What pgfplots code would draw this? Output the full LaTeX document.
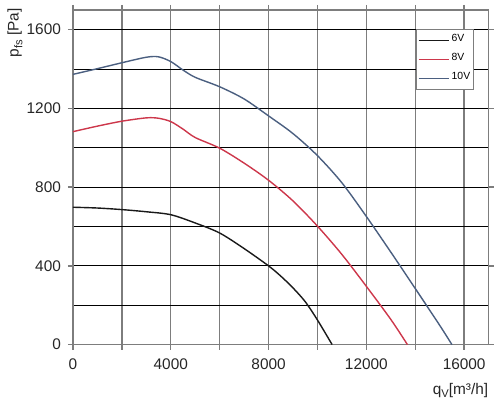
\documentclass[border=0pt]{standalone}
\usepackage{fontspec}
\setmainfont{Liberation Sans}
\usepackage{pgfplots}
\pgfplotsset{compat=1.18}
\definecolor{c6}{RGB}{25,25,25}
\definecolor{c8}{RGB}{205,55,75}
\definecolor{c10}{RGB}{75,95,128}
\definecolor{gridgray}{RGB}{125,125,125}
\newcommand{\sub}[1]{\raisebox{-0.45ex}{\fontsize{5.6}{6}\selectfont #1}}
\begin{document}
\begin{tikzpicture}
\begin{axis}[
  name=ax,
  scale only axis,
  width=207.85pt, height=167.35pt,
  xmin=0, xmax=17000, ymin=0, ymax=1700,
  scaled ticks=false,
  xtick={0,2000,...,16000},
  xticklabels={0,,4000,,8000,,12000,,16000},
  ytick={0,400,...,1600},
  minor ytick={200,600,1000,1400},
  grid=both,
  x grid style={gridgray, line width=0.7pt},
  y grid style={black, line width=0.5pt},
  minor grid style={black, line width=0.5pt},
  axis line style={gridgray, line width=0.7pt},
  tick align=outside,
  major tick length=2.5pt,
  minor tick length=0pt,
  every tick/.style={gridgray, line width=0.7pt},
  tick label style={font=\fontsize{7.7}{9}\selectfont, text=black!85},
  xticklabel style={yshift=-1pt},
  /pgf/number format/assume math mode=true,
  /pgf/number format/1000 sep={},
  legend style={at={(0.9646,0.943)}, anchor=north east, draw=gridgray, line width=0.6pt,
    inner sep=0.8pt, font=\fontsize{5.2}{6}\selectfont, row sep=0pt, text=black,
    nodes={inner sep=0.75pt, text height=4.2pt, text depth=3.8pt}},
  legend cell align=left,
  legend image code/.code={\draw[#1, line width=0.7pt] (0pt,0pt) -- (15.5pt,0pt);},
  clip=false,
]
\addplot[c6, line width=0.7pt, smooth, tension=0.5] coordinates {
(0,698) (1000,694) (2000,686) (3000,675) (4000,660) (5000,618) (6000,567)
(7000,488) (8000,400) (8500,348) (9000,288) (9500,218) (10000,125) (10600,0)};
\addlegendentry{6V}
\addplot[c8, line width=0.7pt, smooth, tension=0.5] coordinates {
(0,1082) (1000,1110) (2000,1135) (3000,1152) (3500,1150) (4000,1133) (4500,1095)
(5000,1052) (6000,998) (7000,922) (8000,835) (9000,730) (10000,602) (11000,458)
(12000,296) (13000,128) (13680,0)};
\addlegendentry{8V}
\addplot[c10, line width=0.7pt, smooth, tension=0.5] coordinates {
(0,1373) (1000,1402) (2000,1432) (3000,1460) (3500,1462) (4000,1438) (4500,1395)
(5000,1358) (6000,1310) (7000,1248) (8000,1162) (9000,1072) (10000,960)
(11000,822) (12000,651) (13000,470) (14000,285) (15000,98) (15500,0)};
\addlegendentry{10V}
\node[rotate=90, anchor=east, inner sep=0pt, font=\fontsize{7.7}{9}\selectfont, text=black!85]
  at ([xshift=-29pt, yshift=1pt]rel axis cs:0,1) {p\sub{fs} [Pa]};
\node[anchor=north east, inner sep=0pt, font=\fontsize{7.7}{9}\selectfont, text=black!85]
  at ([yshift=-19pt]rel axis cs:1,0) {q\sub{V}[m³/h]};
\end{axis}
\pgfresetboundingbox
\path ([xshift=-36.5pt, yshift=-33.5pt]ax.south west) rectangle ([xshift=6.2pt, yshift=5pt]ax.north east);
\end{tikzpicture}
\end{document}
